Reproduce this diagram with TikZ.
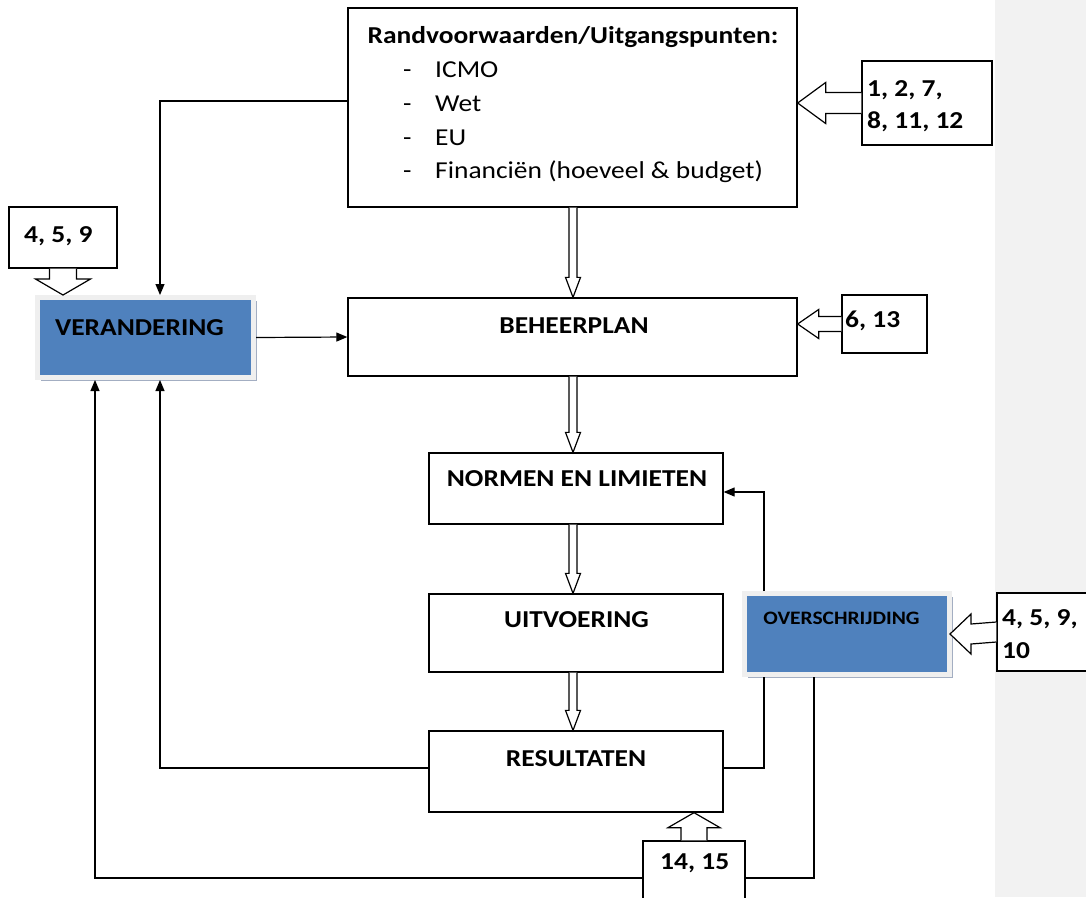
\documentclass[tikz,border=0pt]{standalone}
\usepackage{fontspec}
\setmainfont[FakeStretch=1.13]{Carlito}
\usetikzlibrary{arrows.meta,calc,shadows}
\definecolor{boxblue}{HTML}{4F81BD}
\definecolor{framegray}{HTML}{EFEFEF}
\definecolor{shadowc}{HTML}{A3AEC2}
\definecolor{bargray}{HTML}{F2F2F2}
\newcommand\larrow[5]{\draw[callarrow] ($(#1)+(0,-#3)$) -- ($(#2)+(#4,-#3)$) -- ($(#2)+(#4,-#5)$) -- (#2) -- ($(#2)+(#4,#5)$) -- ($(#2)+(#4,#3)$) -- ($(#1)+(0,#3)$);}
\newcommand\darrow[5]{\draw[callarrow] ($(#1)+(-#3,0)$) -- ($(#2)+(-#3,-#4)$) -- ($(#2)+(-#5,-#4)$) -- (#2) -- ($(#2)+(#5,-#4)$) -- ($(#2)+(#3,-#4)$) -- ($(#1)+(#3,0)$);}
\newcommand\uarrow[5]{\draw[callarrow] ($(#1)+(-#3,0)$) -- ($(#2)+(-#3,#4)$) -- ($(#2)+(-#5,#4)$) -- (#2) -- ($(#2)+(#5,#4)$) -- ($(#2)+(#3,#4)$) -- ($(#1)+(#3,0)$);}
\tikzset{
  box/.style={draw, line width=1.3pt, fill=white, inner sep=0pt},
  bluebox/.style={draw=framegray, line width=5pt, fill=boxblue, inner sep=0pt,
    drop shadow={shadow xshift=3.5pt, shadow yshift=-3.5pt, fill=shadowc, opacity=1}},
  callarrow/.style={draw, line width=1.2pt, fill=white, line join=miter},
  conn/.style={draw, line width=1.2pt},
  connarr/.style={conn, -{Triangle[length=11pt,width=9pt]}},
  bold/.style={font=\bfseries\fontsize{24.3}{28}\selectfont, inner sep=0pt},
  plain/.style={font=\fontsize{24.3}{28}\selectfont, inner sep=0pt},
}
\begin{document}
\begin{tikzpicture}[x=1pt,y=-1pt]
\useasboundingbox (0,0) rectangle (1086,897);
\fill[bargray] (995,0) rectangle (1086,897);
% main boxes
\node[box, minimum width=449pt, minimum height=199pt] (top) at (572.5,107.5) {};
\node[box, minimum width=449pt, minimum height=78pt] (behe) at (572.5,337) {};
\node[box, minimum width=294pt, minimum height=71pt] (normen) at (576,488.5) {};
\node[box, minimum width=294pt, minimum height=78pt] (uitv) at (576,633) {};
\node[box, minimum width=294pt, minimum height=81pt] (res) at (576,771.5) {};
\node[bluebox, minimum width=216pt, minimum height=80pt] (ver) at (145.5,337.5) {};
\node[bluebox, minimum width=205pt, minimum height=81pt] (over) at (847,634) {};
% connectors
\draw[connarr] ([yshift=6.5pt]top.west) -| ([xshift=14.5pt]ver.north);
\draw[connarr] (ver.east) -- (behe.west);
\draw[connarr] ([yshift=3.5pt]res.west) -| ([xshift=14.5pt]ver.south);
\draw[connarr] ([xshift=-33pt]over.south) -- ++(0,201) -| ([xshift=-50.5pt]ver.south);
\draw[conn] ([yshift=3.5pt]res.east) -| ([xshift=-83pt]over.south);
\draw[connarr] ([xshift=-83pt]over.north) |- ([yshift=-3.5pt]normen.east);
% hollow arrows between main boxes
\coordinate (ax) at (573,0);
\coordinate (h1a) at (top.south -| ax);
\coordinate (h1b) at (behe.north -| ax);
\coordinate (h2a) at (behe.south -| ax);
\coordinate (h2b) at (normen.north -| ax);
\coordinate (h3a) at (normen.south -| ax);
\coordinate (h3b) at (uitv.north -| ax);
\coordinate (h4a) at (uitv.south -| ax);
\coordinate (h4b) at (res.north -| ax);
\darrow{h1a}{h1b}{4}{20}{7.5}
\darrow{h2a}{h2b}{4}{20}{7.5}
\darrow{h3a}{h3b}{4}{20}{7.5}
\darrow{h4a}{h4b}{4}{20}{7.5}
% callouts
\node[box, line width=1.2pt, minimum width=130pt, minimum height=84pt] (c127) at (927,103) {};
\coordinate (t127) at (c127.west -| top.east);
\larrow{c127.west}{t127}{10.5}{28}{20.5}
\node[box, line width=1.2pt, minimum width=85pt, minimum height=58pt] (c613) at (884.5,324) {};
\coordinate (t613) at (c613.west -| behe.east);
\larrow{c613.west}{t613}{7.5}{21}{14.5}
\node[box, line width=1.2pt, minimum width=108pt, minimum height=61pt] (c459) at (63,237.5) {};
\coordinate (t459) at (c459.south |- ver.north);
\darrow{c459.south}{t459}{13.5}{16}{27.5}
\node[box, line width=1.2pt, minimum width=110pt, minimum height=78pt] (c45910) at (1052,632) {};
\coordinate (t45910) at ([xshift=-2pt]over.east);
\larrow{c45910.west}{t45910}{10}{21}{20}
\node[box, line width=1.2pt, minimum width=102pt, minimum height=80pt] (c1415) at (694,881) {};
\coordinate (t1415) at (c1415.north |- res.south);
\uarrow{c1415.north}{t1415}{13}{15}{26}
% texts
\node[bold, anchor=base] (ttitle) at (573,43) {Randvoorwaarden/Uitgangspunten:};
\node[plain, anchor=base west] (ti1) at (403,77) {\makebox[32pt][l]{-}ICMO};
\node[plain, anchor=base west] (ti2) at (403,111) {\makebox[32pt][l]{-}Wet};
\node[plain, anchor=base west] (ti3) at (403,145) {\makebox[32pt][l]{-}EU};
\node[plain, anchor=base west] (ti4) at (403,178) {\makebox[32pt][l]{-}Financiën (hoeveel \& budget)};
\node[bold, anchor=base] (tbehe) at (574,333) {BEHEERPLAN};
\node[bold, anchor=base] (tnormen) at (577,486) {NORMEN EN LIMIETEN};
\node[bold, anchor=base] (tuitv) at (576.5,627) {UITVOERING};
\node[bold, anchor=base] (tres) at (576,766) {RESULTATEN};
\node[bold, anchor=base] (tver) at (139.5,335) {VERANDERING};
\node[bold, anchor=base, font=\bfseries\fontsize{19}{22}\selectfont] (tover) at (841.5,624) {OVERSCHRIJDING};
\node[bold, anchor=base west] (l127a) at (867,96) {1, 2, 7,};
\node[bold, anchor=base west] (l127b) at (867,128) {8, 11, 12};
\node[bold, anchor=base west] (l613) at (845,327) {6, 13};
\node[bold, anchor=base west] (l459) at (24,242) {4, 5, 9};
\node[bold, anchor=base west] (l45910a) at (1002,625) {4, 5, 9,};
\node[bold, anchor=base west] (l45910b) at (1002,658) {10};
\node[bold, anchor=base west] (l1415) at (660,869) {14, 15};
\end{tikzpicture}
\end{document}
